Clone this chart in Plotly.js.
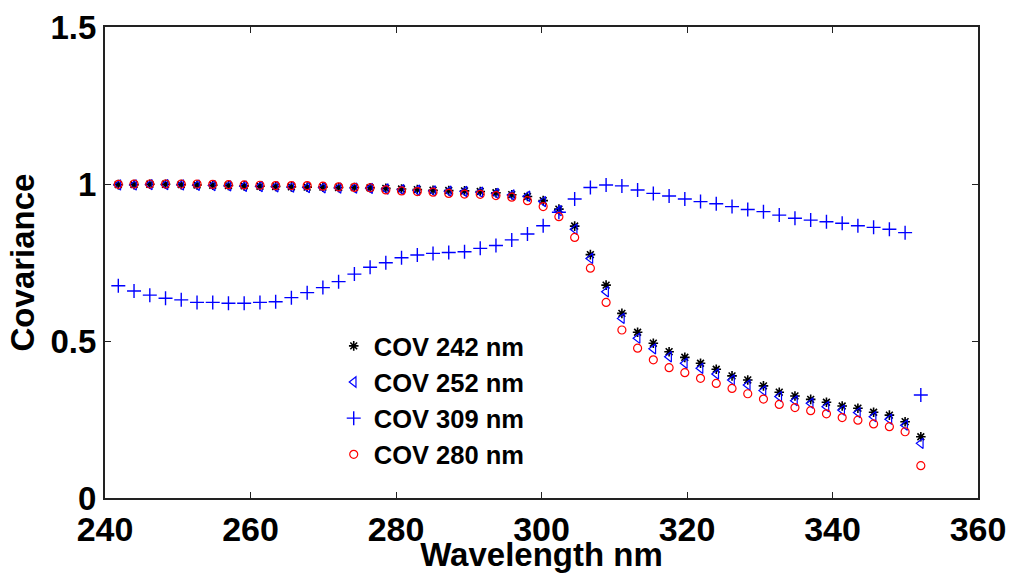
<!DOCTYPE html>
<html>
<head>
<meta charset="utf-8">
<script src="https://cdn.plot.ly/plotly-3.0.1.min.js"></script>
<style>html,body{margin:0;padding:0;background:#fff;}#chart{width:1009px;height:573px;}</style>
</head>
<body>
<div id="chart"></div>
<script>
const wavelength = [241.83,243.99,246.16,248.32,250.48,252.65,254.81,256.97,259.13,261.30,
  263.46,265.62,267.79,269.95,272.11,274.28,276.44,278.60,280.76,282.93,
  285.09,287.25,289.42,291.58,293.74,295.91,298.07,300.23,302.39,304.56,
  306.72,308.88,311.05,313.21,315.37,317.54,319.70,321.86,324.02,326.19,
  328.35,330.51,332.68,334.84,337.00,339.17,341.33,343.49,345.65,347.82,
  349.98,352.14];

const cov242 = [0.998,0.998,0.999,0.999,0.998,0.997,0.996,0.995,0.994,0.993,0.992,0.991,0.990,
  0.990,0.989,0.989,0.988,0.986,0.984,0.982,0.980,0.979,0.978,0.976,0.972,0.966,
  0.960,0.947,0.920,0.866,0.775,
  0.678,0.588,0.528,0.493,0.466,0.448,0.429,0.410,0.389,0.376,0.357,
  0.337,0.325,0.314,0.305,0.293,0.286,0.273,0.264,0.243,0.195];

const cov252 = [0.997,0.997,0.998,0.998,0.997,0.996,0.995,0.994,0.993,0.992,0.991,0.990,0.989,
  0.988,0.987,0.987,0.986,0.984,0.982,0.980,0.978,0.977,0.976,0.974,0.970,0.965,
  0.961,0.944,0.915,0.856,0.763,
  0.657,0.572,0.509,0.475,0.450,0.429,0.413,0.395,0.376,0.360,0.342,
  0.323,0.310,0.302,0.291,0.280,0.272,0.259,0.251,0.232,0.174];

const cov309 = [0.676,0.659,0.646,0.636,0.631,0.623,0.623,0.620,0.620,0.623,0.625,0.638,0.654,0.670,0.689,0.713,
  0.735,0.749,0.765,0.774,0.779,0.782,0.784,0.795,0.804,0.822,0.841,0.867,
  0.910,0.952,0.989,0.997,0.994,0.981,0.970,0.962,0.952,0.944,0.937,0.928,
  0.919,0.912,0.901,0.891,0.885,0.880,0.875,0.867,0.862,0.856,0.845,0.328];

const cov280 = [0.999,1.000,1.000,1.000,1.000,1.000,0.999,0.998,0.997,0.996,0.995,0.995,0.995,
  0.993,0.991,0.989,0.988,0.981,0.978,0.976,0.974,0.970,0.968,0.967,0.963,0.958,
  0.947,0.928,0.896,0.830,0.732,
  0.623,0.535,0.477,0.440,0.415,0.399,0.381,0.365,0.349,0.332,0.315,
  0.298,0.288,0.278,0.268,0.256,0.248,0.236,0.227,0.211,0.103];

const seriesNames = ['COV 242 nm','COV 252 nm','COV 309 nm','COV 280 nm'];
const xTicks = [240,260,280,300,320,340,360];
const yTicks = [0,0.5,1,1.5];
const yTickText = ['0','0.5','1','1.5'];

const traces = [
  {x: wavelength, y: cov242, name: seriesNames[0], mode: 'markers', type: 'scatter',
   marker: {symbol: 'asterisk-open', size: 8, color: '#000', line: {color: '#000', width: 1.6}}},
  {x: wavelength, y: cov252, name: seriesNames[1], mode: 'markers', type: 'scatter',
   marker: {symbol: 'triangle-left-open', size: 9, color: '#0000ff', line: {color: '#0000ff', width: 1.2}}},
  {x: wavelength, y: cov309, name: seriesNames[2], mode: 'markers', type: 'scatter',
   marker: {symbol: 'cross-thin-open', size: 10, color: '#0000ff', line: {color: '#0000ff', width: 1.4}}},
  {x: wavelength, y: cov280, name: seriesNames[3], mode: 'markers', type: 'scatter',
   marker: {symbol: 'circle-open', size: 8, color: '#ff0000', line: {color: '#ff0000', width: 1.2}}}
];

const boldFont = {family: '"Liberation Sans", Arial, sans-serif', weight: 700, color: '#000'};

const layout = {
  width: 1009, height: 573,
  margin: {l: 105, r: 31, t: 27, b: 75, pad: 0},
  paper_bgcolor: '#fff', plot_bgcolor: '#fff',
  showlegend: true,
  legend: {x: 0.262, y: 0.372, xanchor: 'left', yanchor: 'top', bgcolor: 'rgba(0,0,0,0)',
    borderwidth: 0, font: Object.assign({}, boldFont, {size: 25.5}), itemwidth: 30, tracegroupgap: 0},
  xaxis: {
    range: [240, 360], tickvals: xTicks, ticktext: xTicks.map(String),
    ticks: 'inside', ticklen: 6, tickwidth: 1, tickcolor: '#222',
    showline: true, linecolor: '#222', linewidth: 2, mirror: 'ticks',
    showgrid: false, zeroline: false,
    tickfont: Object.assign({}, boldFont, {size: 34}),
    title: {text: 'Wavelength nm', font: Object.assign({}, boldFont, {size: 33}), standoff: 0}
  },
  yaxis: {
    range: [0, 1.5], tickvals: yTicks, ticktext: yTickText,
    ticks: 'inside', ticklen: 6, tickwidth: 1, tickcolor: '#222',
    showline: true, linecolor: '#222', linewidth: 2, mirror: 'ticks',
    showgrid: false, zeroline: false,
    tickfont: Object.assign({}, boldFont, {size: 33}),
    title: {text: 'Covariance', font: Object.assign({}, boldFont, {size: 33}), standoff: 6}
  }
};

Plotly.newPlot('chart', traces, layout, {displayModeBar: false, staticPlot: true});
</script>
</body>
</html>
